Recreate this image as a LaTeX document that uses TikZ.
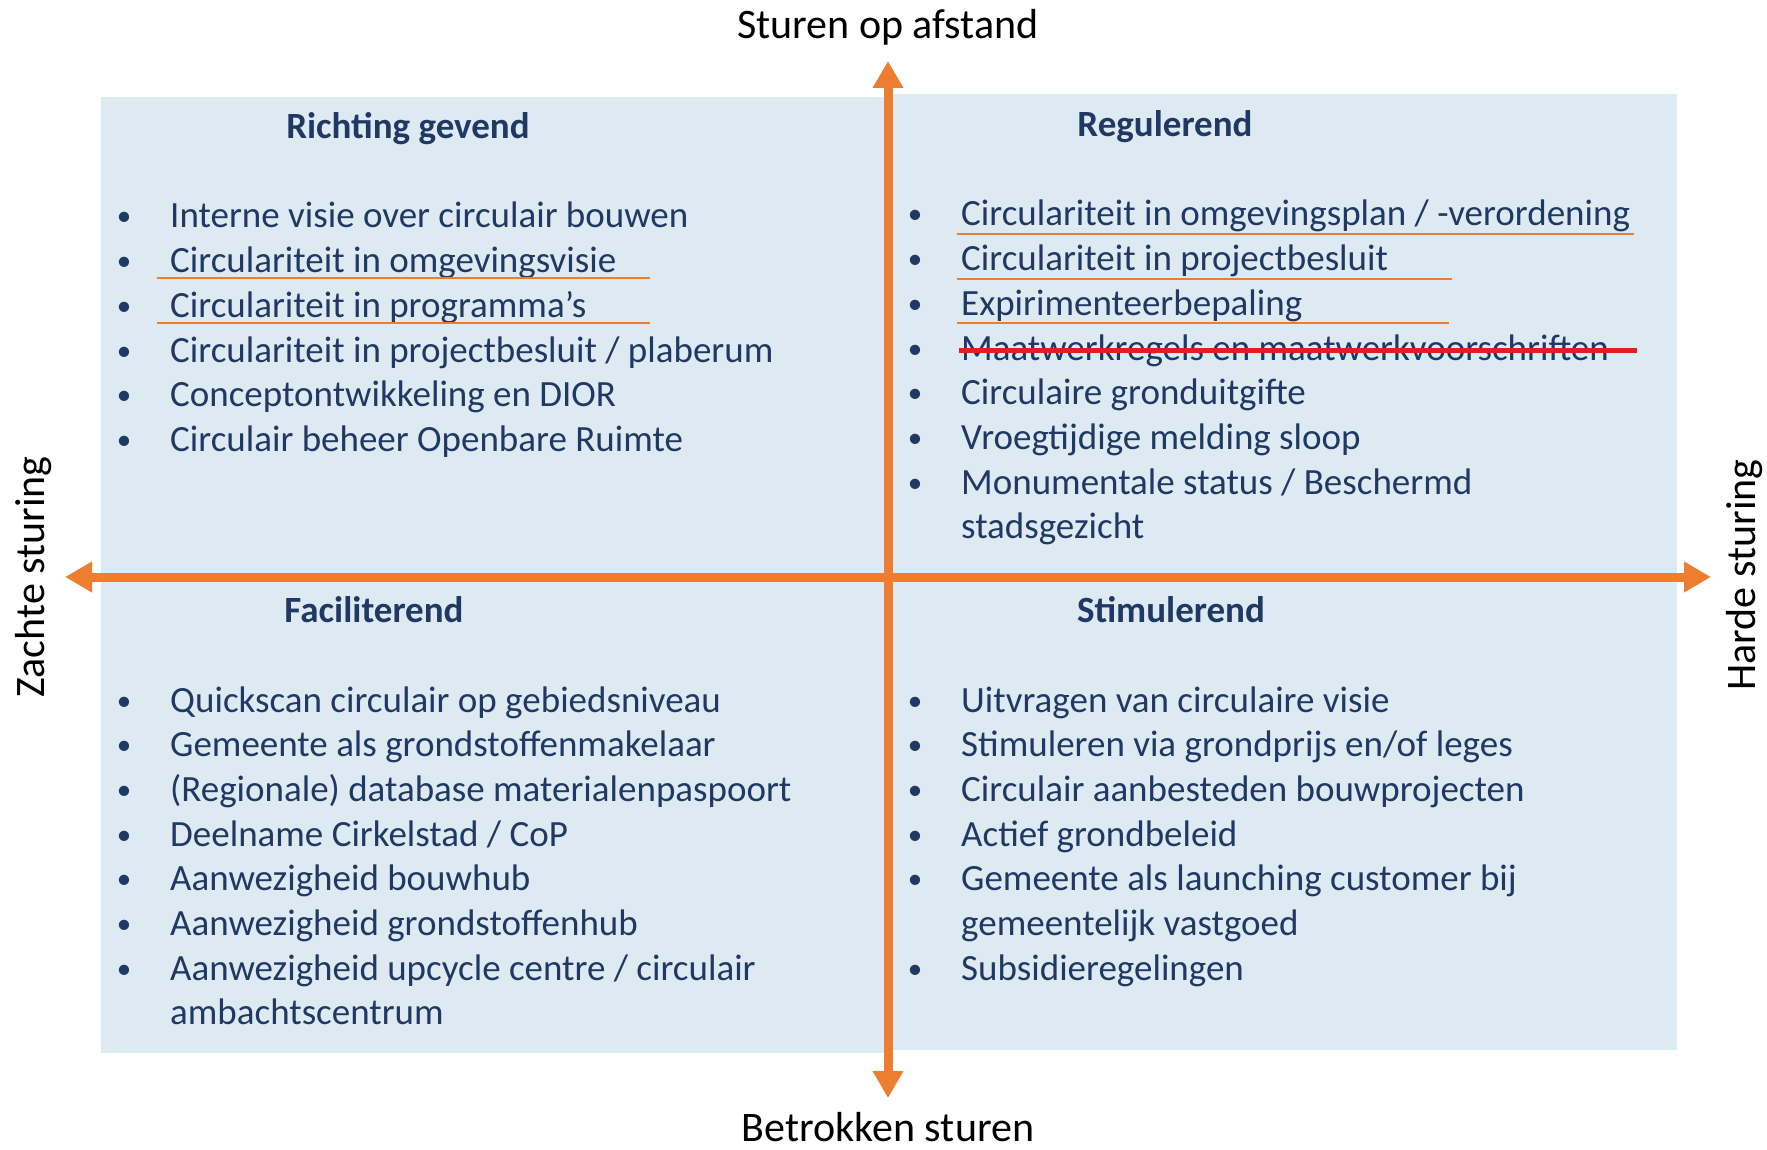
\documentclass[tikz,border=0pt]{standalone}
\usepackage{fontspec}
\setmainfont{Carlito}
\usetikzlibrary{arrows.meta}
\definecolor{navy}{HTML}{1F3864}
\definecolor{paleblue}{HTML}{DEEAF2}
\definecolor{axisorange}{HTML}{ED7D31}
\definecolor{strikered}{HTML}{E41E1E}

\begin{document}
\begin{tikzpicture}[x=1pt,y=-1pt,
  head/.style={anchor=base,text=navy,font=\fontsize{37}{44}\selectfont\bfseries,inner sep=0pt},
  item/.style={anchor=base west,text=navy,font=\fontsize{37}{44}\selectfont,inner sep=0pt},
  bul/.style={anchor=base,text=navy,font=\fontsize{29}{35}\selectfont,inner sep=0pt,yshift=2pt},
  axislabel/.style={text=black,font=\fontsize{42}{50}\selectfont,inner sep=0pt},
  axis/.style={draw=axisorange,line width=9pt,{Triangle[length=27pt,width=29pt]}-{Triangle[length=27pt,width=29pt]}},
  uline/.style={draw=axisorange,line width=1.5pt},
  strike/.style={draw=strikered,line width=5pt}]
\useasboundingbox (0,0) rectangle (1767,1150);
\fill[paleblue] (101,97) rectangle (888,1053);
\fill[paleblue] (888,94) rectangle (1677,1050);

\coordinate (N) at (888,61);
\coordinate (S) at (888,1098);
\coordinate (W) at (65,577);
\coordinate (E) at (1711,577);
\draw[axis] (W) -- (E);
\draw[axis] (S) -- (N);

\node[axislabel,anchor=base] (top) at (888,39) {Sturen op afstand};
\node[axislabel,anchor=base] (bottom) at (888,1141) {Betrokken sturen};
\node[axislabel,rotate=90] (soft) at (34,577) {Zachte sturing};
\node[axislabel,rotate=90] (hard) at (1745,575) {Harde sturing};

\node[head] (rg) at (408,139) {Richting gevend};
\node[head] (re) at (1165,137) {Regulerend};
\node[head] (fa) at (374,622) {Faciliterend};
\node[head] (st) at (1171,622) {Stimulerend};

\foreach \k/\t [count=\i] in {1/Interne visie over circulair bouwen, 1/Circulariteit in omgevingsvisie,
  1/Circulariteit in programma’s, 1/{Circulariteit in projectbesluit / plaberum},
  1/Conceptontwikkeling en DIOR, 1/Circulair beheer Openbare Ruimte}
{
  \node[item] (rg\i) at (170,183.3+44.7*\i) {\t};
  \ifnum\k=1 \node[bul] (rgb\i) at (124,183.3+44.7*\i) {•}; \fi
}
\foreach \k/\t [count=\i] in {1/{Circulariteit in omgevingsplan / -verordening}, 1/Circulariteit in projectbesluit,
  1/Expirimenteerbepaling, 1/Maatwerkregels en maatwerkvoorschriften, 1/Circulaire gronduitgifte,
  1/Vroegtijdige melding sloop, 1/{Monumentale status / Beschermd}, 0/stadsgezicht}
{
  \node[item] (re\i) at (961,181.3+44.7*\i) {\t};
  \ifnum\k=1 \node[bul] (reb\i) at (915,181.3+44.7*\i) {•}; \fi
}
\foreach \k/\t [count=\i] in {1/Quickscan circulair op gebiedsniveau, 1/Gemeente als grondstoffenmakelaar,
  1/{(Regionale) database materialenpaspoort}, 1/{Deelname Cirkelstad / CoP}, 1/Aanwezigheid bouwhub,
  1/Aanwezigheid grondstoffenhub, 1/{Aanwezigheid upcycle centre / circulair}, 0/ambachtscentrum}
{
  \node[item] (fa\i) at (170,667.3+44.7*\i) {\t};
  \ifnum\k=1 \node[bul] (fab\i) at (124,667.3+44.7*\i) {•}; \fi
}
\foreach \k/\t [count=\i] in {1/Uitvragen van circulaire visie, 1/{Stimuleren via grondprijs en/of leges},
  1/Circulair aanbesteden bouwprojecten, 1/Actief grondbeleid, 1/Gemeente als launching customer bij,
  0/gemeentelijk vastgoed, 1/Subsidieregelingen}
{
  \node[item] (st\i) at (961,667.3+44.7*\i) {\t};
  \ifnum\k=1 \node[bul] (stb\i) at (915,667.3+44.7*\i) {•}; \fi
}

\draw[uline] (157,278) -- (650,278);
\draw[uline] (157,323) -- (650,323);
\draw[uline] (957,234) -- (1634,234);
\draw[uline] (957,279) -- (1452,279);
\draw[uline] (957,323) -- (1449,323);
\draw[strike] (959,350) -- (1637,350);
\end{tikzpicture}
\end{document}
